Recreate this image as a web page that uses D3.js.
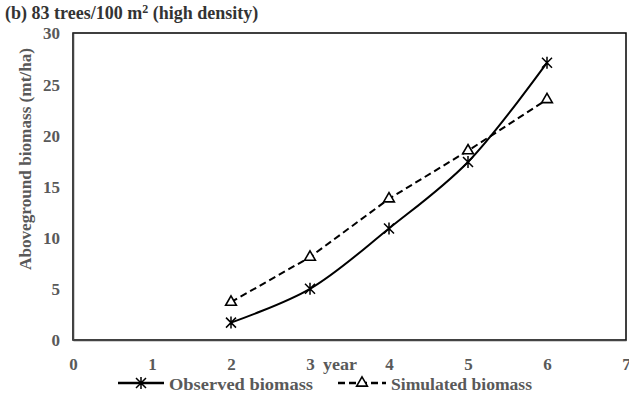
<!DOCTYPE html>
<html>
<head>
<meta charset="utf-8">
<script src="https://cdn.jsdelivr.net/npm/d3@7"></script>
<style>
  body { margin: 0; background: #fff; }
  text { font-family: "Liberation Serif", "Times New Roman", serif; font-weight: bold; }
</style>
</head>
<body>
<div id="chart"></div>
<script>
const years = [2, 3, 4, 5, 6];
const observed = [1.7, 5.0, 10.9, 17.4, 27.1];
const simulated = [3.7, 8.1, 13.8, 18.5, 23.5];
const xTicks = [0, 1, 2, 3, 4, 5, 6, 7];
const yTicks = [0, 5, 10, 15, 20, 25, 30];

const W = 629, H = 396;
const margin = { top: 33, right: 3, bottom: 56, left: 73 },
  width = W - margin.left - margin.right,
  height = H - margin.top - margin.bottom;

const grey = "#595959";

const svg = d3.select("#chart").append("svg")
  .attr("width", W).attr("height", H);

const g = svg.append("g")
  .attr("transform", `translate(${margin.left},${margin.top})`);

const x = d3.scaleLinear().domain([0, 7]).range([0, width]);
const y = d3.scaleLinear().domain([0, 30]).range([height, 0]);

// plot frame (top/right black)
g.append("rect")
  .attr("width", width).attr("height", height)
  .attr("fill", "none").attr("stroke", "#000").attr("stroke-width", 1.5);

// axes
const xAxis = g.append("g")
  .attr("transform", `translate(0,${height})`)
  .call(d3.axisBottom(x).tickValues(xTicks).tickFormat(d3.format("d")).tickSize(0));
const yAxis = g.append("g")
  .call(d3.axisLeft(y).tickValues(yTicks).tickFormat(d3.format("d")).tickSize(0));
[xAxis, yAxis].forEach(a => {
  a.select(".domain").attr("stroke", "#444").attr("stroke-width", 1.5);
  a.selectAll("text").attr("fill", grey)
    .style("font-size", "17px")
    .style("font-family", "Liberation Serif").style("font-weight", "bold");
});
xAxis.selectAll("text").attr("y", 30).attr("dy", null);
yAxis.selectAll("text").attr("x", -13).attr("dy", "0.35em");

// lines
const obsLine = d3.line()
  .x((d, i) => x(years[i])).y(d => y(d))
  .curve(d3.curveCatmullRom.alpha(0.5));
const simLine = d3.line()
  .x((d, i) => x(years[i])).y(d => y(d));

g.append("path").datum(observed)
  .attr("d", obsLine).attr("fill", "none")
  .attr("stroke", "#000").attr("stroke-width", 2);
g.append("path").datum(simulated)
  .attr("d", simLine).attr("fill", "none")
  .attr("stroke", "#000").attr("stroke-width", 2)
  .attr("stroke-dasharray", "7,4");

// Excel-style star marker: an X with a vertical bar
const r = 5;
const starPath = `M${-r},${-r}L${r},${r}M${-r},${r}L${r},${-r}M0,${-r - 1}L0,${r + 1}`;
const tri = d3.symbol().type(d3.symbolTriangle).size(50);

g.selectAll(".obs").data(observed).enter().append("path")
  .attr("class", "obs")
  .attr("transform", (d, i) => `translate(${x(years[i])},${y(d)})`)
  .attr("d", starPath).attr("fill", "none").attr("stroke", "#000").attr("stroke-width", 1.5);
g.selectAll(".sim").data(simulated).enter().append("path")
  .attr("class", "sim")
  .attr("transform", (d, i) => `translate(${x(years[i])},${y(d)})`)
  .attr("d", tri).attr("fill", "#fff").attr("stroke", "#000").attr("stroke-width", 1.6);

// title
svg.append("text")
  .attr("x", 5).attr("y", 19)
  .style("font-size", "18px").attr("fill", "#333")
  .html('(b) 83 trees/100 m<tspan dy="-6" font-size="12">2</tspan><tspan dy="6"> (high density)</tspan>');

// y label
svg.append("text")
  .attr("transform", "translate(31,159) rotate(-90)")
  .attr("text-anchor", "middle")
  .attr("fill", grey).style("font-size", "17px")
  .attr("textLength", 222).attr("lengthAdjust", "spacingAndGlyphs")
  .text("Aboveground biomass (mt/ha)");

// x label
svg.append("text")
  .attr("x", 323).attr("y", 370)
  .attr("fill", grey).style("font-size", "17px")
  .attr("textLength", 34).attr("lengthAdjust", "spacingAndGlyphs")
  .text("year");

// legend
const legend = svg.append("g").attr("transform", "translate(0,383)");
legend.append("line").attr("x1", 118).attr("x2", 164)
  .attr("stroke", "#000").attr("stroke-width", 2.5);
legend.append("path").attr("transform", "translate(141,0)")
  .attr("d", starPath).attr("fill", "none").attr("stroke", "#000").attr("stroke-width", 1.5);
legend.append("text").attr("x", 169).attr("y", 7)
  .attr("fill", grey).style("font-size", "17px")
  .attr("textLength", 144).attr("lengthAdjust", "spacingAndGlyphs")
  .text("Observed biomass");

legend.append("line").attr("x1", 338).attr("x2", 386)
  .attr("stroke", "#000").attr("stroke-width", 2.5)
  .attr("stroke-dasharray", "7,4");
legend.append("path").attr("transform", "translate(362,0)")
  .attr("d", tri).attr("fill", "#fff").attr("stroke", "#000").attr("stroke-width", 1.6);
legend.append("text").attr("x", 391).attr("y", 7)
  .attr("fill", grey).style("font-size", "17px")
  .attr("textLength", 141).attr("lengthAdjust", "spacingAndGlyphs")
  .text("Simulated biomass");
</script>
</body>
</html>
